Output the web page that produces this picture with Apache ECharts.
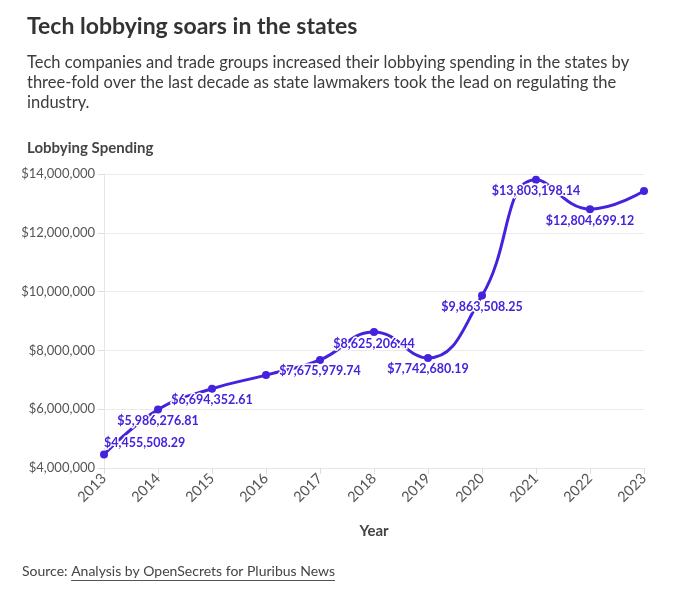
<!DOCTYPE html>
<html>
<head>
<meta charset="utf-8">
<script src="https://cdn.jsdelivr.net/npm/echarts@6/dist/echarts.min.js"></script>
<style>
  html, body { margin: 0; padding: 0; background: #fff; }
  #chart { width: 680px; height: 592px; }
</style>
</head>
<body>
<div id="chart"></div>
<script>
// data
const years = ['2013', '2014', '2015', '2016', '2017', '2018', '2019', '2020', '2021', '2022', '2023'];
const spending = [4455508.29, 5986276.81, 6694352.61, 7160000, 7675979.74, 8625206.44, 7742680.19, 9863508.25, 13803198.14, 12804699.12, 13420000];
// which points carry a label, and where
const labelPlace = ['top', 'bottom', 'bottom', 'none', 'bottom', 'bottom', 'bottom', 'bottom', 'bottom', 'bottom', 'none'];

const purple = '#4722dc';
const font = 'Lato';

function money(v, dec) {
    return '$' + v.toLocaleString('en-US', {minimumFractionDigits: dec, maximumFractionDigits: dec});
}

// width of the source prefix / link, for the underline
function textWidth(txt, size) {
    var ctx = document.createElement('canvas').getContext('2d');
    ctx.font = size + 'px ' + font;
    return ctx.measureText(txt).width;
}

const seriesData = spending.map(function (v, i) {
    const place = labelPlace[i];
    if (place === 'none') return {value: v, label: {show: false}};
    if (place === 'top') return {value: v, label: {position: 'top', align: 'left', offset: [-4, 2]}};
    return {value: v, label: {position: 'bottom'}};
});

const srcPrefix = 'Source: ';
const srcLink = 'Analysis by OpenSecrets for Pluribus News';
const prefixW = textWidth(srcPrefix, 14);
const linkW = textWidth(srcLink, 14);

var myChart = echarts.init(document.getElementById('chart'));
var option = {
    backgroundColor: '#fff',
    animation: false,
    textStyle: {fontFamily: font},
    title: [
        {
            text: 'Tech lobbying soars in the states',
            left: 22, top: 10,
            textStyle: {fontFamily: font, fontSize: 23, fontWeight: 'bold', color: '#333'}
        },
        {
            text: 'Tech companies and trade groups increased their lobbying spending in the states by\nthree-fold over the last decade as state lawmakers took the lead on regulating the\nindustry.',
            left: 22, top: 48,
            textStyle: {fontFamily: font, fontSize: 16.5, fontWeight: 'normal', color: '#3c3c3c', lineHeight: 20}
        },
        {
            text: 'Lobbying Spending',
            left: 22, top: 136,
            textStyle: {fontFamily: font, fontSize: 15, fontWeight: 'bold', color: '#444'}
        }
    ],
    graphic: [
        {type: 'text', left: 22, top: 564, style: {text: srcPrefix, font: '14px ' + font, fill: '#444'}},
        {type: 'text', left: 22 + prefixW, top: 564, style: {text: srcLink, font: '14px ' + font, fill: '#444'}},
        {type: 'rect', shape: {x: 22 + prefixW, y: 580, width: linkW, height: 1}, style: {fill: '#555'}}
    ],
    grid: {left: 104, right: 36, top: 174, bottom: 124},
    xAxis: {
        type: 'category',
        data: years,
        boundaryGap: false,
        name: 'Year',
        nameLocation: 'middle',
        nameGap: 56,
        nameTextStyle: {fontFamily: font, fontSize: 15, fontWeight: 'bold', color: '#444'},
        axisLine: {show: true, lineStyle: {color: '#e6e6e6', width: 1}},
        axisTick: {show: true, length: 6, lineStyle: {color: '#ddd'}},
        axisLabel: {rotate: 45, margin: 8, fontSize: 14.5, color: '#555', fontFamily: font},
        splitLine: {show: false}
    },
    yAxis: {
        type: 'value',
        min: 4000000,
        max: 14000000,
        interval: 2000000,
        axisLine: {show: true, lineStyle: {color: '#e6e6e6', width: 1}},
        axisTick: {show: true, length: 6, lineStyle: {color: '#ddd'}},
        axisLabel: {
            fontSize: 13, color: '#555', fontFamily: font, margin: 9,
            formatter: function (v) { return money(v, 0); }
        },
        splitLine: {lineStyle: {color: '#ebebeb', width: 1}}
    },
    series: [
        {
            type: 'line',
            data: seriesData,
            smooth: 0.45,
            symbol: 'circle',
            symbolSize: 8,
            lineStyle: {color: purple, width: 3},
            itemStyle: {color: purple},
            label: {
                show: true,
                distance: 1,
                fontFamily: font,
                fontSize: 12.5,
                fontWeight: 'bold',
                color: purple,
                textBorderColor: '#fff',
                textBorderWidth: 3,
                formatter: function (p) { return money(p.value, 2); }
            },
            labelLayout: {hideOverlap: false}
        }
    ]
};
myChart.setOption(option);
</script>
</body>
</html>
